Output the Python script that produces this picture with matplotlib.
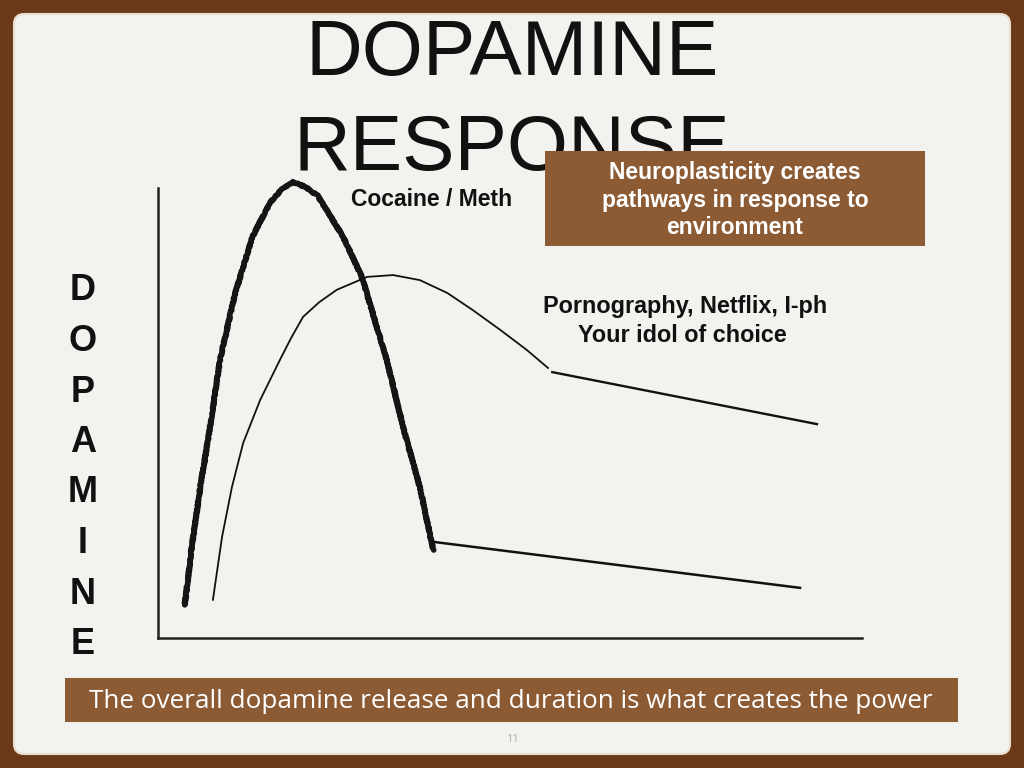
import matplotlib.pyplot as plt
from matplotlib.patches import FancyBboxPatch, Rectangle

# Curve data (time vs dopamine level, arbitrary units 0-100)
cocaine_t = [3.8, 4.8, 6.0, 7.4, 8.8, 10.9, 13.4, 15.9, 17.5, 19.2, 21.0, 22.7, 26.3, 29.0, 32.5, 34.8, 37.2, 39.1]
cocaine_d = [7.2, 19.8, 32.8, 45.9, 60.4, 74.6, 87.2, 94.6, 97.4, 99.1, 98.0, 96.1, 87.2, 78.3, 60.4, 45.9, 32.8, 19.1]
cocaine_tail_t = [39.1, 91.2]
cocaine_tail_d = [20.9, 10.9]

idol_t = [7.8, 9.1, 10.5, 12.1, 14.5, 17.3, 18.9, 20.6, 22.9, 25.4, 29.7, 33.4, 37.2, 41.1, 44.7, 48.6, 52.4, 55.4]
idol_d = [8.3, 22.0, 32.8, 42.4, 51.7, 60.4, 65.2, 69.8, 73.0, 75.7, 78.5, 78.9, 77.8, 75.0, 71.3, 67.0, 62.6, 58.7]
idol_tail_t = [56.0, 93.6]
idol_tail_d = [57.8, 46.5]

title_lines = ['DOPAMINE', 'RESPONSE']
axis_letters = list('DOPAMINE')
note_text = 'Neuroplasticity creates\npathways in response to\nenvironment'
caption = 'The overall dopamine release and duration is what creates the power'

W, H = 1024, 768
border = '#6c381a'
panel = '#f2f2ef'
brown = '#8c5b34'

fig = plt.figure(figsize=(W / 100, H / 100), dpi=100)
fig.patch.set_facecolor(border)

# background layer in pixel coords
bg = fig.add_axes([0, 0, 1, 1])
bg.set_xlim(0, W)
bg.set_ylim(H, 0)
bg.axis('off')
bg.add_patch(FancyBboxPatch((14, 14), W - 28, H - 28,
                            boxstyle='round,pad=0,rounding_size=10',
                            fc=panel, ec='#e8ded0', lw=1.5))

# title
bg.text(512, 75, title_lines[0], ha='center', va='baseline', fontsize=56.5,
        family='Liberation Sans', color='#111111')
bg.text(512, 170, title_lines[1], ha='center', va='baseline', fontsize=56.5,
        family='Liberation Sans', color='#111111')

# note box over the title
bg.add_patch(Rectangle((545, 151), 380, 95, fc=brown, ec='none', zorder=3))
bg.text(735, 200, note_text, ha='center', va='center', fontsize=16.5,
        family='Liberation Sans', weight='bold', color='white',
        linespacing=1.27, zorder=4)

# vertical axis label
for i, ch in enumerate(axis_letters):
    bg.text(83, 291 + i * 50.5, ch, ha='center', va='center', fontsize=26,
            family='Liberation Sans', weight='bold', color='#111111')

# curve labels
bg.text(432, 200, 'Cocaine / Meth', ha='center', va='center', fontsize=16.5,
        family='Liberation Sans', weight='bold', color='#111111')
bg.text(685, 307, 'Pornography, Netflix, I-ph', ha='center', va='center',
        fontsize=16.8, family='Liberation Sans', weight='bold', color='#111111')
bg.text(682, 336, 'Your idol of choice', ha='center', va='center',
        fontsize=16.8, family='Liberation Sans', weight='bold', color='#111111')

# caption banner
bg.add_patch(Rectangle((65, 678), 893, 44, fc=brown, ec='none'))
bg.text(511, 702, caption, ha='center', va='center', fontsize=18.8,
        family='Open Sans', color='white')

bg.text(512, 740, '11', ha='center', va='center', fontsize=8,
        family='Open Sans', color='#b0b0b0')

# chart area
x0, x1, ytop, ybot = 158, 862, 178, 638
ax = fig.add_axes([x0 / W, 1 - ybot / H, (x1 - x0) / W, (ybot - ytop) / H])
ax.set_xlim(0, 100)
ax.set_ylim(0, 100)
ax.patch.set_visible(False)
ax.set_xticks([])
ax.set_yticks([])
for s in ['top', 'right']:
    ax.spines[s].set_visible(False)
ax.spines['left'].set_bounds(0, 97.8)
for s in ['left', 'bottom']:
    ax.spines[s].set_linewidth(1.8)
    ax.spines[s].set_color('#222222')

ln, = ax.plot(cocaine_t, cocaine_d, color='#151515', lw=4,
              solid_capstyle='round', solid_joinstyle='round')
ln.set_sketch_params(scale=0.6, length=1.5, randomness=2)
ax.plot(cocaine_tail_t, cocaine_tail_d, color='#111111', lw=1.8)
ax.plot(idol_t, idol_d, color='#111111', lw=1.3, solid_joinstyle='round')
ax.plot(idol_tail_t, idol_tail_d, color='#111111', lw=1.7)

fig.savefig('out.png', dpi=100, facecolor=fig.get_facecolor())
